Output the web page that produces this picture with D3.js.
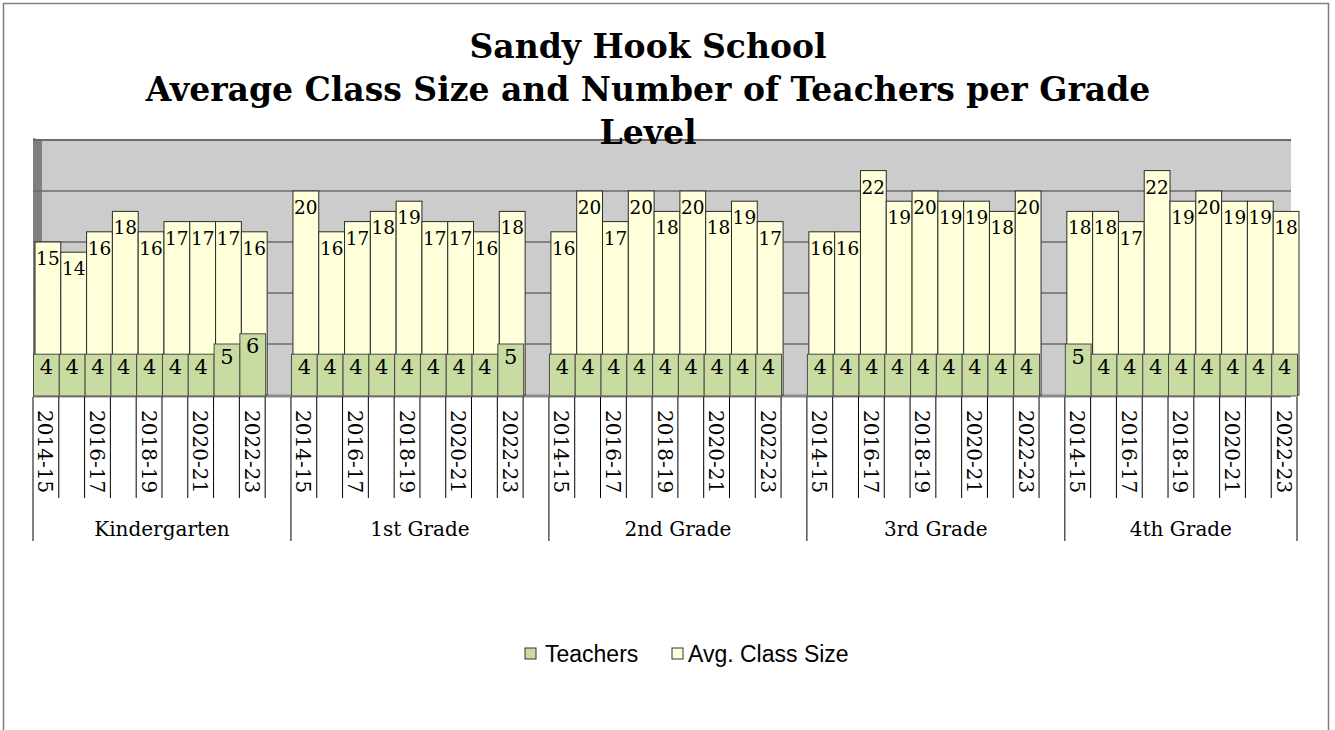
<!DOCTYPE html>
<html>
<head>
<meta charset="utf-8">
<script src="https://cdn.jsdelivr.net/npm/d3@7"></script>
<style>
  body { margin: 0; background: #fff; }
</style>
</head>
<body>
<div id="chart"></div>
<script>
// data
const grades = ["Kindergarten", "1st Grade", "2nd Grade", "3rd Grade", "4th Grade"];
const years = ["2014-15", "2015-16", "2016-17", "2017-18", "2018-19", "2019-20", "2020-21", "2021-22", "2022-23"];
const classK = [15, 14, 16, 18, 16, 17, 17, 17, 16];
const class1 = [20, 16, 17, 18, 19, 17, 17, 16, 18];
const class2 = [16, 20, 17, 20, 18, 20, 18, 19, 17];
const class3 = [16, 16, 22, 19, 20, 19, 19, 18, 20];
const class4 = [18, 18, 17, 22, 19, 20, 19, 19, 18];
const teachK = [4, 4, 4, 4, 4, 4, 4, 5, 6];
const teach1 = [4, 4, 4, 4, 4, 4, 4, 4, 5];
const teach2 = [4, 4, 4, 4, 4, 4, 4, 4, 4];
const teach3 = [4, 4, 4, 4, 4, 4, 4, 4, 4];
const teach4 = [5, 4, 4, 4, 4, 4, 4, 4, 4];

const classByGrade = [classK, class1, class2, class3, class4];
const teachByGrade = [teachK, teach1, teach2, teach3, teach4];

// one slot per year, plus an empty slot between grades
const rows = [];
grades.forEach((g, gi) => {
  years.forEach((yr, yi) => {
    rows.push({ slot: gi * 10 + yi, grade: g, year: yr, yi: yi,
      size: classByGrade[gi][yi], teachers: teachByGrade[gi][yi] });
  });
});
const nSlots = grades.length * 10 - 1;

const W = 1335, H = 730;
const svg = d3.select("#chart").append("svg")
  .attr("width", W).attr("height", H)
  .style("font-family", "'DejaVu Serif', Georgia, serif");

// chart border
svg.append("rect")
  .attr("x", 3.5).attr("y", 3.5).attr("width", 1325).attr("height", 760)
  .attr("fill", "#fff").attr("stroke", "#7f7f7f").attr("stroke-width", 1.5);

const x = d3.scaleBand().domain(d3.range(nSlots)).range([33, 1297]).padding(0);
const y = d3.scaleLinear().domain([0, 25]).range([395, 140]);
const bw = x.bandwidth();

// back wall
svg.append("rect")
  .attr("x", 33).attr("y", y(25)).attr("width", 1291 - 33).attr("height", y(0) - y(25))
  .attr("fill", "#cccccc");
// left side wall
svg.append("path")
  .attr("d", `M33,${y(25) - 2} L42,${y(25)} L42,${y(0)} L33,${y(0) + 2} Z`)
  .attr("fill", "#7f7f7f");

// gridlines
svg.append("g").selectAll("line")
  .data(y.ticks(5).filter(d => d > 0))
  .enter().append("line")
  .attr("x1", 33).attr("x2", 1291)
  .attr("y1", d => y(d)).attr("y2", d => y(d))
  .attr("stroke", "#6b6b6b").attr("stroke-width", d => d === 25 ? 2 : 1.5);
svg.append("line")
  .attr("x1", 33).attr("x2", 1291).attr("y1", y(0) + 1).attr("y2", y(0) + 1)
  .attr("stroke", "#8a8a8a").attr("stroke-width", 3);

// class size bars (behind)
svg.append("g").selectAll("rect")
  .data(rows)
  .enter().append("rect")
  .attr("x", d => x(d.slot) + 2)
  .attr("y", d => y(d.size))
  .attr("width", bw)
  .attr("height", d => y(0) - y(d.size))
  .attr("fill", "#ffffd9")
  .attr("stroke", "#2b2b2b").attr("stroke-width", 1);

// teachers bars (front)
svg.append("g").selectAll("rect")
  .data(rows)
  .enter().append("rect")
  .attr("x", d => x(d.slot) + 0.5)
  .attr("y", d => y(d.teachers))
  .attr("width", bw)
  .attr("height", d => y(0) + 1 - y(d.teachers))
  .attr("fill", "#c8dba1")
  .attr("stroke", "#4a4a4a").attr("stroke-width", 1);

// data labels
svg.append("g").selectAll("text")
  .data(rows)
  .enter().append("text")
  .attr("x", d => x(d.slot) + 2 + bw / 2)
  .attr("y", d => y(d.size) + 18)
  .attr("text-anchor", "middle").attr("dominant-baseline", "middle")
  .attr("font-size", 18.5).attr("fill", "#000")
  .text(d => d.size);
svg.append("g").selectAll("text")
  .data(rows)
  .enter().append("text")
  .attr("x", d => x(d.slot) + 0.5 + bw / 2)
  .attr("y", d => y(d.teachers) + 14)
  .attr("text-anchor", "middle").attr("dominant-baseline", "middle")
  .attr("font-size", 21).attr("fill", "#000")
  .text(d => d.teachers);

// category axis: slot ticks
const axisTop = y(0) + 2;
svg.append("g").selectAll("line")
  .data(d3.range(nSlots + 1))
  .enter().append("line")
  .attr("x1", i => i < nSlots ? x(i) : x(nSlots - 1) + bw)
  .attr("x2", i => i < nSlots ? x(i) : x(nSlots - 1) + bw)
  .attr("y1", axisTop)
  .attr("y2", i => (i % 10 === 0 || i === nSlots) ? 541 : 498)
  .attr("stroke", "#000").attr("stroke-width", 1);

// year labels (every other year)
svg.append("g").selectAll("text")
  .data(rows.filter(d => d.yi % 2 === 0))
  .enter().append("text")
  .attr("transform", d => `translate(${x(d.slot) + bw / 2 - 2},410) rotate(90)`)
  .attr("dominant-baseline", "middle")
  .attr("font-size", 20).attr("fill", "#000")
  .text(d => d.year);

// grade labels
svg.append("g").selectAll("text")
  .data(grades)
  .enter().append("text")
  .attr("x", (g, gi) => {
    const a = x(gi * 10);
    const b = gi < grades.length - 1 ? x(gi * 10 + 10) : x(nSlots - 1) + bw;
    return (a + b) / 2;
  })
  .attr("y", 530)
  .attr("text-anchor", "middle").attr("dominant-baseline", "middle")
  .attr("font-size", 20).attr("fill", "#000")
  .text(d => d);

// title
const titleLines = ["Sandy Hook School", "Average Class Size and Number of Teachers per Grade", "Level"];
svg.append("g").selectAll("text")
  .data(titleLines)
  .enter().append("text")
  .attr("x", 648)
  .attr("y", (d, i) => 58 + i * 43)
  .attr("text-anchor", "middle")
  .attr("font-size", 33).attr("font-weight", "bold").attr("fill", "#000")
  .text(d => d);

// legend
const legendItems = [
  { label: "Teachers", fill: "#c8dba1", x: 525 },
  { label: "Avg. Class Size", fill: "#ffffd9", x: 672 }
];
const lg = svg.append("g").style("font-family", "'Liberation Sans', Arial, sans-serif");
lg.selectAll("rect")
  .data(legendItems)
  .enter().append("rect")
  .attr("x", d => d.x).attr("y", 648)
  .attr("width", 11).attr("height", 11)
  .attr("fill", d => d.fill).attr("stroke", "#333").attr("stroke-width", 1);
lg.selectAll("text")
  .data(legendItems)
  .enter().append("text")
  .attr("x", (d, i) => d.x + (i === 0 ? 20 : 16)).attr("y", 662)
  .attr("font-size", 23).attr("fill", "#000")
  .text(d => d.label);
</script>
</body>
</html>
